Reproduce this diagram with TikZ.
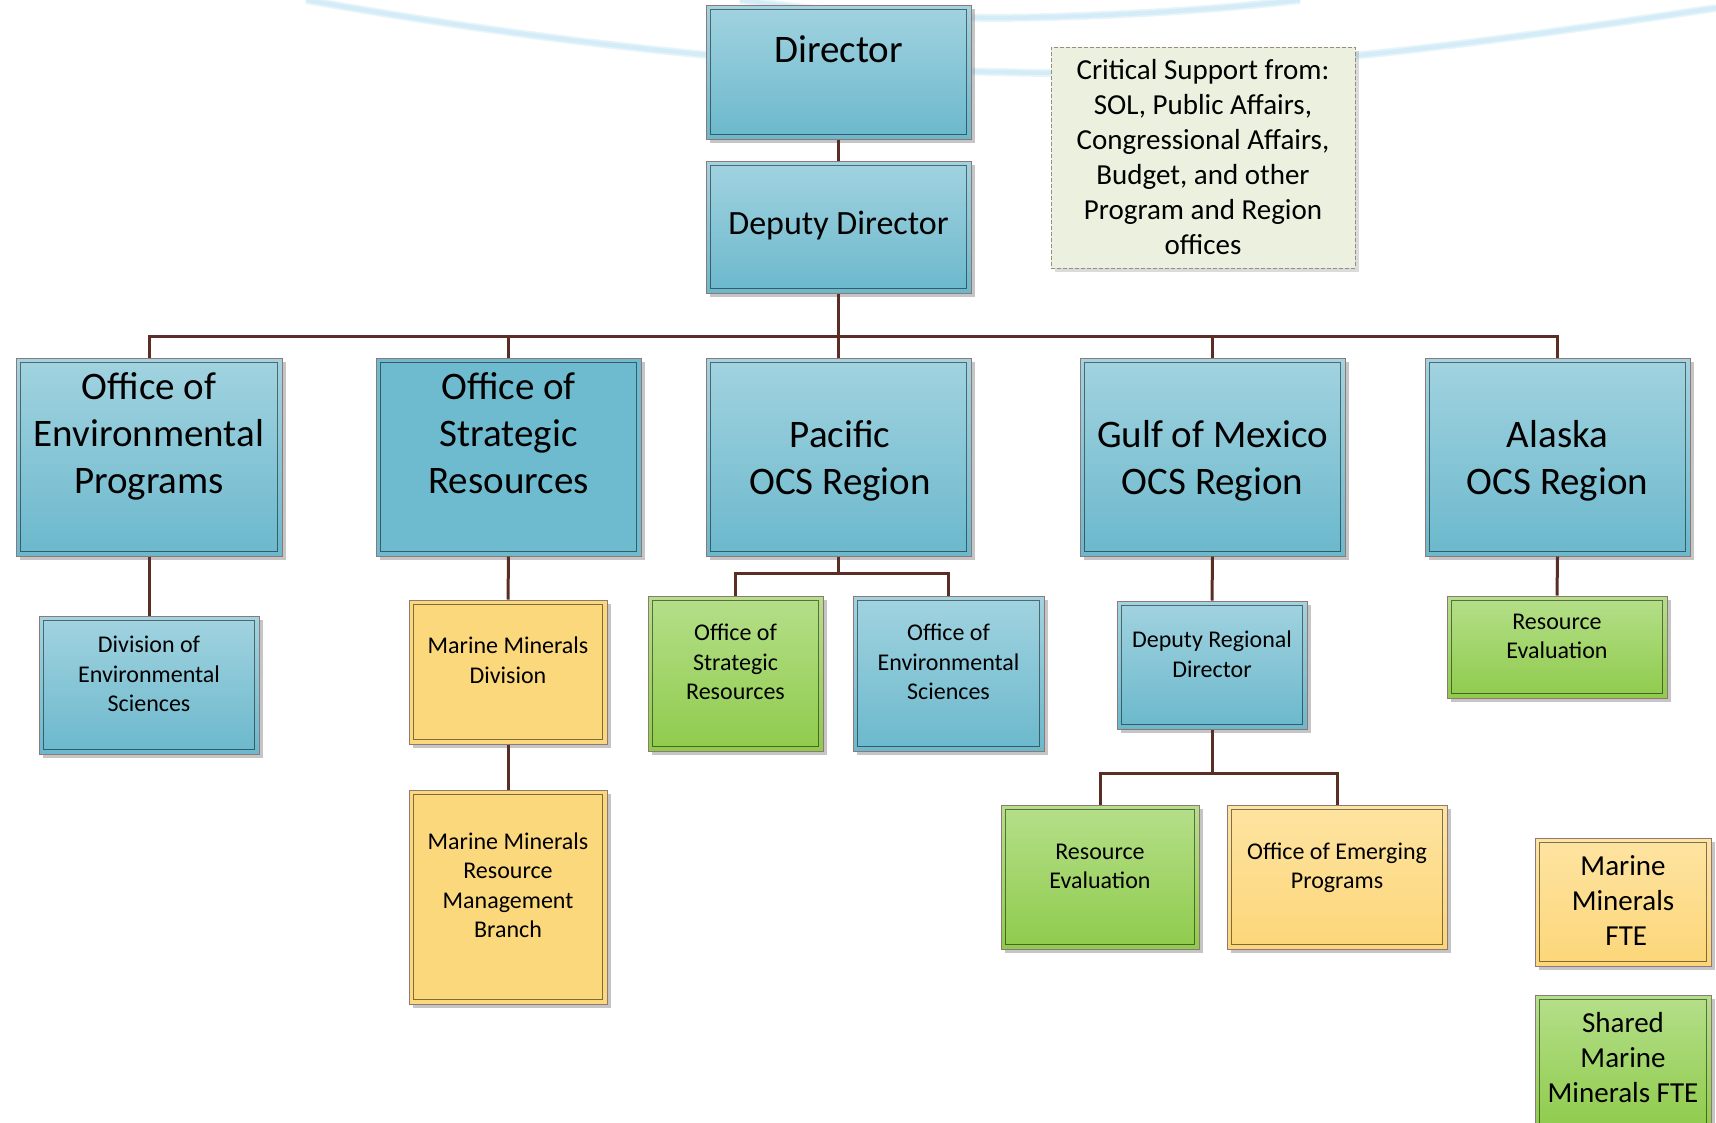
\documentclass[tikz,border=0pt]{standalone}
\usepackage{fontspec}
\setmainfont{Carlito}
\usetikzlibrary{calc,shadows}
\definecolor{btop}{HTML}{A2D3E0}
\definecolor{bbot}{HTML}{6BB8CC}
\definecolor{bsolid}{HTML}{6EBBCF}
\definecolor{gtop}{HTML}{B5DF8A}
\definecolor{gbot}{HTML}{8FCB4C}
\definecolor{ytop}{HTML}{FEE4A2}
\definecolor{ybot}{HTML}{FCD678}
\definecolor{ysolid}{HTML}{FCD87C}
\definecolor{outerc}{HTML}{917878}
\definecolor{conc}{HTML}{5A2E24}
\definecolor{swoosh}{HTML}{D4ECF8}
\definecolor{supfill}{HTML}{EBF1DE}
\definecolor{supline}{HTML}{9A8A80}
\tikzset{
  box/.style={rectangle, draw=outerc, line width=1pt, inner sep=0pt,
    drop shadow={shadow xshift=4pt, shadow yshift=-4pt, opacity=0.5, fill=black!45}},
  bluebox/.style={box, top color=btop, bottom color=bbot},
  bluesolid/.style={box, fill=bsolid},
  greenbox/.style={box, top color=gtop, bottom color=gbot},
  yellowbox/.style={box, top color=ytop, bottom color=ybot},
  yellowsolid/.style={box, fill=ysolid},
  supbox/.style={rectangle, draw=supline, line width=1pt, dash pattern=on 4pt off 2pt,
    fill=supfill, inner sep=0pt,
    drop shadow={shadow xshift=4pt, shadow yshift=-4pt, opacity=0.35, fill=black!40}},
  innerline/.style={draw=black, draw opacity=0.5, line width=1.3pt},
  conn/.style={draw=conc, line width=3pt},
  txt/.style={align=center, inner sep=0pt, text=black},
  fbig/.style={font=\fontsize{39}{47}\selectfont},
  fdep/.style={font=\fontsize{34}{41}\selectfont},
  fmid/.style={font=\fontsize{29}{35}\selectfont},
  fsmall/.style={font=\fontsize{24}{29.5}\selectfont},
}
\begin{document}
\begin{tikzpicture}[x=1pt,y=-1pt]
\useasboundingbox (0,0) rectangle (1716,1122);
\fill[white] (0,0) rectangle (1716,1122);

% background swooshes
\draw[swoosh!55, line width=8pt] (306,0) .. controls (560,45) and (800,70) .. (1050,73) .. controls (1300,70) and (1500,40) .. (1716,8);
\draw[swoosh, line width=4.5pt] (306,0) .. controls (560,45) and (800,70) .. (1050,73) .. controls (1300,70) and (1500,40) .. (1716,8);
\draw[swoosh!55, line width=8pt] (740,0) .. controls (850,15) and (950,20) .. (1050,17) .. controls (1150,14) and (1230,8) .. (1300,0);
\draw[swoosh, line width=4.5pt] (740,0) .. controls (850,15) and (950,20) .. (1050,17) .. controls (1150,14) and (1230,8) .. (1300,0);

% boxes
\node[bluebox, minimum width=265pt, minimum height=134pt] (dir) at (838.5,72) {};
\node[bluebox, minimum width=265pt, minimum height=132pt] (dep) at (838.5,227) {};
\node[supbox, minimum width=304pt, minimum height=221pt] (sup) at (1203,157.5) {};

\node[bluebox, minimum width=266pt, minimum height=198pt] (oep) at (149,457) {};
\node[bluesolid, minimum width=265pt, minimum height=198pt] (osr) at (508.5,457) {};
\node[bluebox, minimum width=265pt, minimum height=198pt] (pac) at (838.5,457) {};
\node[bluebox, minimum width=265pt, minimum height=198pt] (gom) at (1212.5,457) {};
\node[bluebox, minimum width=265pt, minimum height=198pt] (ak) at (1557.5,457) {};

\node[bluebox, minimum width=220pt, minimum height=138pt] (des) at (149,685) {};
\node[yellowsolid, minimum width=198pt, minimum height=144pt] (mmd) at (508,672) {};
\node[yellowsolid, minimum width=198pt, minimum height=214pt] (mmb) at (508,897) {};
\node[greenbox, minimum width=175pt, minimum height=155pt] (pgr) at (735.5,673.5) {};
\node[bluebox, minimum width=191pt, minimum height=155pt] (pbl) at (948.5,673.5) {};
\node[bluebox, minimum width=190pt, minimum height=128pt] (drd) at (1212,665) {};
\node[greenbox, minimum width=198pt, minimum height=144pt] (gre) at (1100,877) {};
\node[yellowbox, minimum width=220pt, minimum height=144pt] (gem) at (1337,877) {};
\node[greenbox, minimum width=220pt, minimum height=102pt] (akre) at (1557,647) {};
\node[yellowbox, minimum width=176pt, minimum height=128pt] (fte) at (1623,902) {};
\node[greenbox, minimum width=176pt, minimum height=135pt] (sfte) at (1623,1062.5) {};

% inner borders
\foreach \n in {dir,dep,oep,osr,pac,gom,ak,des,mmd,mmb,pgr,pbl,drd,gre,gem,akre,fte,sfte}
  \draw[innerline] ($(\n.north west)+(5,5)$) rectangle ($(\n.south east)+(-5,-5)$);

% connectors
\coordinate (busA) at (838.5,336);
\draw[conn] (dir.south) -- (dep.north);
\draw[conn] (dep.south) -- (busA);
\foreach \c in {oep,osr,pac,gom,ak}
  \draw[conn] (busA) -| (\c.north);
\draw[conn] (oep.south) -- (des.north);
\draw[conn] (osr.south) -- (mmd.north);
\draw[conn] (mmd.south) -- (mmb.north);
\coordinate (busP) at (735.5,573);
\draw[conn] (pac.south) |- (busP) -- (pgr.north);
\draw[conn] (pac.south) |- (pbl.north |- busP) -- (pbl.north);
\draw[conn] (gom.south) -- (drd.north);
\coordinate (busG) at (1212,773);
\draw[conn] (drd.south) -- (busG);
\draw[conn] (busG) -| (gre.north);
\draw[conn] (busG) -| (gem.north);
\draw[conn] (ak.south) -- (akre.north);

% texts
\node[txt, fbig] (dir-t) at (838.5,49) {Director};
\node[txt, fdep] (dep-t) at (838.5,225.5) {Deputy Director};
\node[txt, fmid] (sup-t) at (1203,157) {Critical Support from:\\SOL, Public Affairs,\\Congressional Affairs,\\Budget, and other\\Program and Region\\offices};
\node[txt, fbig] (oep-t) at (149,436.5) {Office of\\Environmental\\Programs};
\node[txt, fbig] (osr-t) at (508.5,433) {Office of\\Strategic\\Resources};
\node[txt, fbig] (pac-t) at (840,460.5) {Pacific\\OCS Region};
\node[txt, fbig] (gom-t) at (1212.5,460.5) {Gulf of Mexico\\OCS Region};
\node[txt, fbig] (ak-t) at (1557.5,460.5) {Alaska\\OCS Region};
\node[txt, fsmall] (des-t) at (149,674) {Division of\\Environmental\\Sciences};
\node[txt, fsmall] (mmd-t) at (508,660) {Marine Minerals\\Division};
\node[txt, fsmall] (mmb-t) at (508,885) {Marine Minerals\\Resource\\Management\\Branch};
\node[txt, fsmall] (pgr-t) at (735.5,662) {Office of\\Strategic\\Resources};
\node[txt, fsmall] (pbl-t) at (948.5,662) {Office of\\Environmental\\Sciences};
\node[txt, fsmall] (drd-t) at (1212,654) {Deputy Regional\\Director};
\node[txt, fsmall] (gre-t) at (1100,866.5) {Resource\\Evaluation};
\node[txt, fsmall] (gem-t) at (1337,868) {Office of Emerging\\Programs};
\node[txt, fsmall] (akre-t) at (1557,636.5) {Resource\\Evaluation};
\node[txt, fmid] (fte-t) at (1623,901) {Marine\\Minerals\\\ FTE};
\node[txt, fmid] (sfte-t) at (1623,1058) {Shared\\Marine\\Minerals FTE};
\end{tikzpicture}
\end{document}
